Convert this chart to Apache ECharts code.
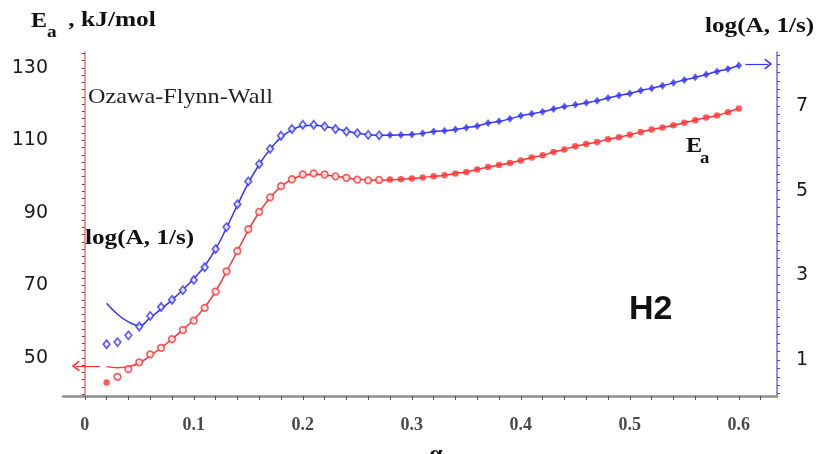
<!DOCTYPE html>
<html><head><meta charset="utf-8">
<script src="https://cdn.jsdelivr.net/npm/echarts@6/dist/echarts.min.js"></script>
<style>html,body{margin:0;padding:0;background:#fff}#c{width:816px;height:454px}</style>
</head><body><div id="c"></div>
<script>
// ---- data ----
const alpha = [0.02,0.03,0.04,0.05,0.06,0.07,0.08,0.09,0.10,
  0.11,0.12,0.13,0.14,0.15,0.16,0.17,0.18,0.19,0.20,
  0.21,0.22,0.23,0.24,0.25,0.26,0.27,0.28,0.29,0.30,
  0.31,0.32,0.33,0.34,0.35,0.36,0.37,0.38,0.39,0.40,
  0.41,0.42,0.43,0.44,0.45,0.46,0.47,0.48,0.49,0.50,
  0.51,0.52,0.53,0.54,0.55,0.56,0.57,0.58,0.59,0.60];
const eaPoints = [43.2,44.8,46.9,48.8,51.0,52.8,55.2,57.7,60.3,
  63.8,68.3,73.9,79.5,85.5,90.3,94.3,97.4,99.3,100.6,
  100.9,100.6,100.1,99.7,99.2,99.0,99.1,99.2,99.3,99.5,
  99.8,100.1,100.4,100.9,101.3,102.0,102.7,103.2,103.8,104.5,
  105.3,105.9,106.8,107.5,108.4,109.0,109.6,110.3,110.9,111.6,
  112.3,113.0,113.6,114.2,114.9,115.6,116.3,116.9,117.8,118.8];
const eaFit = [47.6,47.3,47.6,48.6,50.6,52.8,55.2,57.8,60.6,
  64.0,68.4,73.8,79.5,85.2,90.2,94.2,97.3,99.3,100.4,
  100.7,100.5,100.1,99.7,99.3,99.1,99.0,99.1,99.3,99.5,
  99.8,100.1,100.4,100.9,101.3,102.0,102.7,103.2,103.8,104.5,
  105.3,105.9,106.8,107.5,108.4,109.0,109.6,110.3,110.9,111.6,
  112.3,113.0,113.6,114.2,114.9,115.6,116.3,116.9,117.8,118.8];
const logAPoints = [1.37,1.42,1.58,1.79,2.04,2.25,2.42,2.65,2.89,
  3.19,3.62,4.14,4.68,5.22,5.63,5.99,6.30,6.46,6.56,
  6.56,6.52,6.46,6.40,6.36,6.32,6.31,6.32,6.32,6.33,
  6.36,6.40,6.42,6.45,6.49,6.53,6.60,6.64,6.70,6.77,
  6.82,6.87,6.93,6.99,7.03,7.08,7.13,7.19,7.25,7.30,
  7.37,7.42,7.48,7.55,7.62,7.68,7.75,7.82,7.88,7.96];
const logAFit = [2.34,2.08,1.90,1.81,2.00,2.20,2.42,2.66,2.92,
  3.22,3.62,4.12,4.66,5.18,5.62,5.98,6.26,6.44,6.53,
  6.55,6.52,6.47,6.41,6.36,6.33,6.31,6.31,6.32,6.33,
  6.36,6.40,6.42,6.45,6.49,6.53,6.60,6.64,6.70,6.77,
  6.82,6.87,6.93,6.99,7.03,7.08,7.13,7.19,7.25,7.30,
  7.37,7.42,7.48,7.55,7.62,7.68,7.75,7.82,7.88,7.96];
const xTickLabels = [0,0.1,0.2,0.3,0.4,0.5,0.6];
const eaTickLabels = [50,70,90,110,130];
const logATickLabels = [1,3,5,7];

// ---- styling ----
const RED = '#ff3434', BLUE = '#3636ff';
const hollowLimit = 0.275;
function range(a, b, s) { const r = []; for (let v = a; v <= b + 1e-9; v += s) r.push(+v.toFixed(4)); return r; }
const xTicks = range(0, 0.62, 0.02);
const eaTicks = range(40, 134, 2);
const logATicks = range(0.2, 8.2, 0.2);

const chart = echarts.init(document.getElementById('c'), null, {renderer: 'canvas'});
const ptData = (ys, color, firstFilled) => alpha.map((a, i) => {
  const hollow = a <= hollowLimit && !(firstFilled && i === 0);
  return {value: [a, ys[i]], itemStyle: hollow ? {color: '#fff', borderColor: color, borderWidth: 1.8} : {color: color}};
});
const chevron = 'path://M5,0 L10,8 L8.8,9 L5,3 L1.2,9 L0,8 Z';
const serif = 'Liberation Serif';

chart.setOption({
  animation: false,
  backgroundColor: '#fff',
  grid: {left: 63, right: 39, top: 52, bottom: 58},
  xAxis: {
    type: 'value', min: -0.020, max: 0.635,
    axisLine: {lineStyle: {color: '#8c8c8c', width: 2.5}},
    axisTick: {customValues: xTicks, length: 4, lineStyle: {color: '#555'}},
    axisLabel: {customValues: xTickLabels, margin: 20, fontFamily: serif, fontSize: 18, fontWeight: 'bold', color: '#4a4a4a',
      formatter: v => (v === 0 ? '0' : v.toFixed(1))},
    splitLine: {show: false}
  },
  yAxis: [{
    type: 'value', min: 39.5, max: 134.4, position: 'left',
    axisLine: {show: true, lineStyle: {color: '#ff6c6c', width: 1.5}},
    axisTick: {show: true, customValues: eaTicks, length: 3, lineStyle: {color: '#555'}},
    axisLabel: {customValues: eaTickLabels, margin: 15, fontFamily: 'DejaVu Sans', fontSize: 19, color: '#1a1a1a'},
    splitLine: {show: false}
  }, {
    type: 'value', min: 0.146, max: 8.28, position: 'right',
    axisLine: {show: true, lineStyle: {color: '#6a6aff', width: 1.5}},
    axisTick: {show: true, customValues: logATicks, length: 3, lineStyle: {color: '#555'}},
    axisLabel: {customValues: logATickLabels, margin: 19, fontFamily: 'DejaVu Sans', fontSize: 19, color: '#1a1a1a'},
    splitLine: {show: false}
  }],
  series: [{
    name: 'Ea fit', type: 'line', yAxisIndex: 0, smooth: true, showSymbol: false, z: 2,
    data: alpha.map((a, i) => [a, eaFit[i]]),
    lineStyle: {color: RED, width: 1.5}
  }, {
    name: 'logA fit', type: 'line', yAxisIndex: 1, smooth: true, showSymbol: false, z: 2,
    data: alpha.map((a, i) => [a, logAFit[i]]),
    lineStyle: {color: BLUE, width: 1.5}
  }, {
    name: 'Ea', type: 'scatter', yAxisIndex: 0, symbol: 'circle', symbolSize: 6.5, z: 3,
    data: ptData(eaPoints, RED, true),
    markLine: {silent: true, symbol: ['none', chevron], symbolSize: [11, 8], label: {show: false},
      lineStyle: {color: RED, width: 1.2, type: 'solid'},
      data: [[{coord: [0.0138, 47.8]}, {coord: [-0.0083, 47.8]}]]}
  }, {
    name: 'logA', type: 'scatter', yAxisIndex: 1, symbol: 'diamond', symbolSize: [6.5, 8], z: 3,
    data: ptData(logAPoints, BLUE, false),
    markLine: {silent: true, symbol: ['none', chevron], symbolSize: [11, 8], label: {show: false},
      lineStyle: {color: BLUE, width: 1.2, type: 'solid'},
      data: [[{coord: [0.606, 7.995]}, {coord: [0.627, 7.995]}]]}
  }],
  graphic: [
    {type: 'text', x: 31, y: 22, scaleX: 1.2, style: {text: 'E', font: 'bold 20px "Liberation Serif"', fill: '#111', verticalAlign: 'middle'}},
    {type: 'text', x: 47, y: 33, scaleX: 1.2, style: {text: 'a', font: 'bold 16px "Liberation Serif"', fill: '#111', verticalAlign: 'middle'}},
    {type: 'text', x: 62, y: 21, scaleX: 1.27, style: {text: ' , kJ/mol', font: 'bold 20px "Liberation Serif"', fill: '#111', verticalAlign: 'middle'}},
    {type: 'text', x: 705, y: 27, scaleX: 1.26, style: {text: 'log(A, 1/s)', font: 'bold 20px "Liberation Serif"', fill: '#111', verticalAlign: 'middle'}},
    {type: 'text', x: 88, y: 97, scaleX: 1.1, style: {text: 'Ozawa-Flynn-Wall', font: '22px "Liberation Serif"', fill: '#222', verticalAlign: 'middle'}},
    {type: 'text', x: 85, y: 239, scaleX: 1.26, style: {text: 'log(A, 1/s)', font: 'bold 20px "Liberation Serif"', fill: '#111', verticalAlign: 'middle'}},
    {type: 'text', x: 629, y: 310, style: {text: 'H2', font: 'bold 34px "Liberation Sans"', fill: '#111', verticalAlign: 'middle'}},
    {type: 'text', x: 686, y: 146, scaleX: 1.1, style: {text: 'E', font: 'bold 22px "Liberation Serif"', fill: '#111', verticalAlign: 'middle'}},
    {type: 'text', x: 700, y: 159, scaleX: 1.1, style: {text: 'a', font: 'bold 17px "Liberation Serif"', fill: '#111', verticalAlign: 'middle'}},
    {type: 'text', x: 436, y: 455, style: {text: 'α', font: 'bold 24px "Liberation Serif"', fill: '#111', align: 'center', verticalAlign: 'middle'}}
  ]
});
</script>
</body></html>
